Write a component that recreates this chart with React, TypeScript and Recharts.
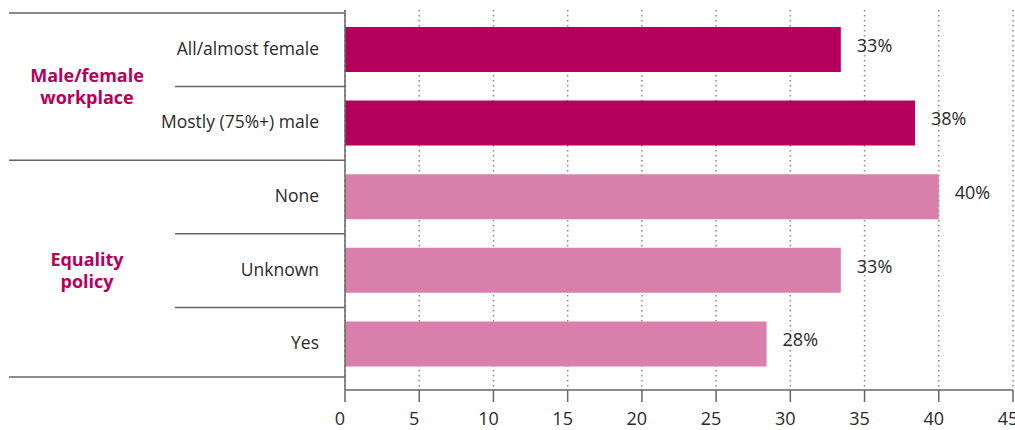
import { Bar, BarChart, CartesianGrid, Cell, LabelList, XAxis, YAxis } from 'recharts';

const categories = ['All/almost female', 'Mostly (75%+) male', 'None', 'Unknown', 'Yes'];
const values = [33.4, 38.4, 40.0, 33.4, 28.4];
const groupOf = [0, 0, 1, 1, 1];
const groupNames = [
  ['Male/female', 'workplace'],
  ['Equality', 'policy'],
];
const groupColors = ['#b4005a', '#d97fac'];
const xTicks = [0, 5, 10, 15, 20, 25, 30, 35, 40, 45];

const data = categories.map((category, i) => ({ category, value: values[i], group: groupOf[i] }));

const WIDTH = 1015;
const HEIGHT = 430;
const MARGIN = { top: 10, right: 2, bottom: 0, left: 0 };
const Y_WIDTH = 345;
const X_HEIGHT = 40;
const PAD = { top: 3, bottom: 9 };
// height of one category band, derived from the layout above
const BAND = (HEIGHT - MARGIN.top - MARGIN.bottom - X_HEIGHT - PAD.top - PAD.bottom) / categories.length;

const FONT = '"Open Sans", sans-serif';
const TEXT = '#2a2a2a';
const RULE = '#666';

function CategoryTick(props: any) {
  const { y, payload } = props;
  const i = categories.indexOf(payload.value);
  const g = groupOf[i];
  const firstInGroup = i === 0 || groupOf[i - 1] !== g;
  const last = i === categories.length - 1;
  const members = groupOf.filter((v) => v === g).length;
  const top = y - BAND / 2;
  return (
    <g>
      <text x={Y_WIDTH - 26} y={y} dy={5} textAnchor="end" fontSize={17.5} fill={TEXT} fontFamily={FONT}>
        {payload.value}
      </text>
      <line x1={firstInGroup ? 9 : 175} x2={Y_WIDTH} y1={top} y2={top} stroke={RULE} strokeWidth={1.5} />
      {last && <line x1={9} x2={Y_WIDTH} y1={y + BAND / 2 - 4} y2={y + BAND / 2 - 4} stroke={RULE} strokeWidth={1.5} />}
      {firstInGroup && (
        <text
          x={87}
          y={y + ((members - 1) * BAND) / 2}
          textAnchor="middle"
          fontSize={18}
          fontWeight={700}
          fill={groupColors[0]}
          fontFamily={FONT}
        >
          <tspan x={87} dy={-5}>{groupNames[g][0]}</tspan>
          <tspan x={87} dy={22}>{groupNames[g][1]}</tspan>
        </text>
      )}
    </g>
  );
}

export default function App() {
  return (
    <div style={{ position: 'absolute', left: 0, top: 0, background: '#fff' }}>
      <BarChart width={WIDTH} height={HEIGHT} data={data} layout="vertical" margin={MARGIN} barSize={45}>
        <CartesianGrid horizontal={false} stroke="#888" strokeDasharray="1.5 3.5" strokeWidth={1.5} />
        <XAxis
          type="number"
          domain={[0, 45]}
          ticks={xTicks}
          interval={0}
          height={X_HEIGHT}
          axisLine={{ stroke: RULE, strokeWidth: 1.5 }}
          tickLine={{ stroke: RULE, strokeWidth: 1.5 }}
          tickSize={12}
          tickMargin={10}
          tick={{ fontSize: 18, fill: TEXT, fontFamily: FONT, dx: -5 }}
        />
        <YAxis
          type="category"
          dataKey="category"
          width={Y_WIDTH}
          padding={PAD}
          axisLine={{ stroke: RULE, strokeWidth: 1.5 }}
          tickLine={false}
          tick={<CategoryTick />}
          interval={0}
        />
        <Bar dataKey="value" isAnimationActive={false}>
          {data.map((d) => (
            <Cell key={d.category} fill={groupColors[d.group]} />
          ))}
          <LabelList
            dataKey="value"
            position="right"
            offset={16}
            formatter={(v: any) => `${Math.round(Number(v))}%`}
            style={{ fontSize: 18, fill: TEXT, fontFamily: FONT, transform: 'translateY(-4px)' }}
          />
        </Bar>
      </BarChart>
    </div>
  );
}
